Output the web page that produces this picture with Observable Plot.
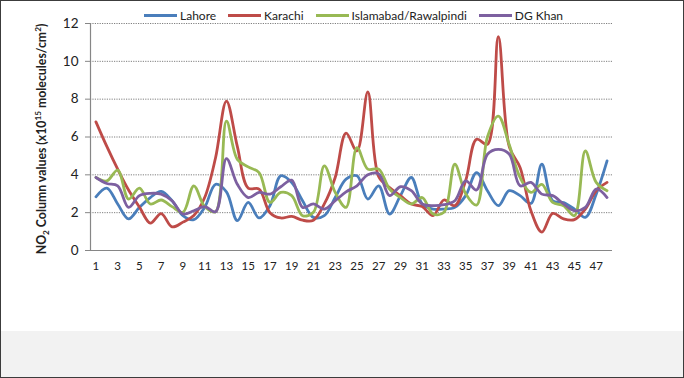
<!DOCTYPE html>
<html>
<head>
<meta charset="utf-8">
<script src="https://cdn.jsdelivr.net/npm/d3@7"></script>
<script src="https://cdn.jsdelivr.net/npm/@observablehq/plot@0.6"></script>
<style>
  html, body { margin: 0; padding: 0; background: #fff; }
  #wrap { position: relative; width: 684px; height: 378px; overflow: hidden; background: #fff; font-family: Lato, "Open Sans", sans-serif; }
  #chart { position: absolute; left: 0; top: 0; }
  #band { position: absolute; left: 0; top: 331px; width: 684px; height: 47px; background: #f2f2f2; }
  #frame { position: absolute; left: 0; top: 0; width: 684px; height: 378px; box-sizing: border-box; border: 1px solid #3c3c3c; pointer-events: none; }
  #legend { position: absolute; left: 144px; top: 8px; display: flex; align-items: center; font-size: 12px; color: #222; white-space: nowrap; }
  .item { display: flex; align-items: center; margin-right: 12px; }
  .sw { width: 33px; height: 3px; margin-right: 3px; }
</style>
</head>
<body>
<div id="wrap">
  <div id="band"></div>
  <div id="chart"></div>
  <div id="legend"></div>
  <div id="frame"></div>
</div>
<script>
const cities = ["Lahore", "Karachi", "Islamabad/Rawalpindi", "DG Khan"];
const colors = ["#4A7EBB", "#BE4B48", "#98B954", "#7D60A0"];
const periods = [1,2,3,4,5,6,7,8,9,10,11,12,13,14,15,16,17,18,19,20,21,22,23,24,25,26,27,28,29,30,31,32,33,34,35,36,37,38,39,40,41,42,43,44,45,46,47,48];
const xTicks = [1,3,5,7,9,11,13,15,17,19,21,23,25,27,29,31,33,35,37,39,41,43,45,47];
const yTicks = [0,2,4,6,8,10,12];

const lahore = [2.84,3.3,2.46,1.67,2.28,2.8,3.12,2.63,1.84,1.63,2.28,3.5,3.1,1.58,2.54,1.72,2.37,3.95,3.6,2.63,1.75,1.84,2.8,3.77,3.95,2.72,3.42,1.93,2.9,3.86,2.46,2.19,2.19,2.28,2.9,4.12,3.16,2.37,3.16,2.9,2.49,4.56,2.63,2.54,2.19,1.75,2.98,4.74];
const karachi = [6.8,5.5,4.3,3.2,2.3,1.45,1.95,1.25,1.5,1.85,2.8,4.9,7.9,5.5,3.3,3.25,2.0,1.72,1.8,1.6,1.6,2.46,3.86,6.2,5.26,8.38,3.9,3.33,2.9,2.46,2.32,1.84,2.67,2.37,3.7,5.88,5.61,11.3,5.5,4.39,2.1,0.97,1.96,1.67,1.63,2.19,3.16,3.6];
const islamabad = [3.86,3.68,4.25,2.72,3.3,2.46,2.67,2.32,2.02,3.42,2.32,2.05,6.84,4.82,4.42,4.12,2.54,3.07,2.9,1.84,2.02,4.47,3.07,2.28,5.44,4.3,4.3,3.25,2.8,2.46,2.8,1.93,2.02,4.56,3.0,2.4,6.0,7.1,5.6,3.86,3.07,3.5,2.54,2.37,1.84,5.26,3.6,3.16];
const dgkhan = [3.86,3.54,3.42,2.28,2.9,3.02,2.98,2.63,1.93,2.1,2.32,2.05,4.86,3.5,2.8,3.07,2.98,3.37,3.72,2.28,2.46,2.19,2.63,3.1,3.42,4.0,4.05,2.9,3.37,3.16,2.46,2.37,2.42,2.63,3.68,3.2,5.09,5.35,5.1,3.42,3.6,2.98,2.9,2.46,2.1,2.28,3.25,2.8];

const seriesValues = [lahore, karachi, islamabad, dgkhan];
const data = [];
cities.forEach((c, k) => {
  seriesValues[k].forEach((v, i) => data.push({city: c, period: periods[i], value: v}));
});

const plot = Plot.plot({
  width: 684,
  height: 331,
  marginTop: 23,
  marginBottom: 81,
  marginLeft: 90,
  marginRight: 72,
  style: {fontFamily: "Lato, 'Open Sans', sans-serif", background: "transparent", color: "#222"},
  x: {type: "linear", domain: [0.5, 48.5]},
  y: {domain: [0, 12]},
  color: {domain: cities, range: colors},
  marks: [
    Plot.gridY(yTicks.filter(d => d > 0), {stroke: "#7f7f7f", strokeOpacity: 1, strokeDasharray: "1.2,1.2", strokeWidth: 1}),
    Plot.axisY({ticks: yTicks, tickSize: 5, tickPadding: 7, fontSize: 13.5, stroke: "#868686", label: null}),
    Plot.axisX({ticks: xTicks, tickSize: 0, tickPadding: 11, fontSize: 11.5, label: null, tickFormat: d => String(d)}),
    Plot.ruleX([0.5], {stroke: "#868686", strokeWidth: 1.2}),
    Plot.ruleY([0], {stroke: "#868686", strokeWidth: 1.2}),
    Plot.line(data, {x: "period", y: "value", z: "city", stroke: "city", strokeWidth: 2.8, curve: "catmull-rom"})
  ]
});
document.getElementById("chart").appendChild(plot);

// y-axis title
const svg = d3.select(plot);
const t = svg.append("text")
  .attr("transform", "translate(46,139) rotate(-90)")
  .attr("text-anchor", "middle")
  .attr("font-weight", "bold")
  .attr("font-size", 12.3)
  .attr("fill", "#222");
t.append("tspan").text("NO");
t.append("tspan").attr("font-size", 8.2).attr("dy", 3).text("2");
t.append("tspan").attr("dy", -3).text(" Column values (x10");
t.append("tspan").attr("font-size", 8.2).attr("dy", -5).text("15");
t.append("tspan").attr("dy", 5).text(" molecules/cm");
t.append("tspan").attr("font-size", 8.2).attr("dy", -5).text("2");
t.append("tspan").attr("dy", 5).text(")");

// legend
const color = plot.scale("color");
const legend = d3.select("#legend");
cities.forEach((c, i) => {
  const it = legend.append("div").attr("class", "item");
  it.append("div").attr("class", "sw").style("background", color.range[i]);
  it.append("span").text(c);
});
</script>
</body>
</html>
